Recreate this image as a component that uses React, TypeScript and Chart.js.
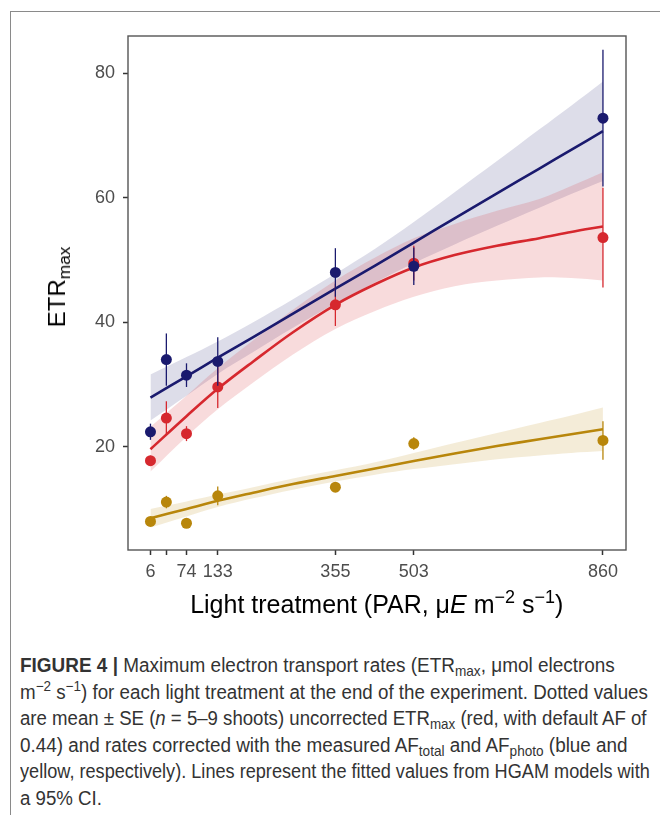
import React, { useEffect, useLayoutEffect, useRef } from 'react';
import { Chart, registerables } from 'chart.js';

Chart.register(...registerables);

// ---- tick values ----
const xTicks = [6, 36, 74, 133, 355, 503, 860];
const xTickLabels = ['6', '', '74', '133', '355', '503', '860'];
const yTicks = [20, 40, 60, 80];

// ---- observed means ± SE ----
const treatments = [6, 36, 74, 133, 355, 503, 860];
const redMean = [17.75, 24.6, 22.1, 29.6, 42.8, 49.5, 53.6];
const redSE = [0.8, 2.7, 1.2, 3.4, 3.4, 2.8, 8.0];
const blueMean = [22.4, 34.0, 31.5, 33.7, 48.0, 49.0, 72.8];
const blueSE = [1.3, 4.2, 1.9, 3.9, 3.9, 3.0, 11.0];
const yellowMean = [8.0, 11.1, 7.7, 12.1, 13.5, 20.5, 21.0];
const yellowSE = [0.5, 1.0, 0.4, 1.5, 0.6, 1.0, 3.1];

// ---- fitted HGAM values and 95% CI ----
const fitX = [6, 74, 133, 200, 275, 355, 430, 503, 580, 660, 740, 800, 860];
const redFit = [19.6, 24.9, 29.3, 33.7, 38.4, 42.8, 46.1, 48.8, 50.8, 52.3, 53.5, 54.5, 55.4];
const redLower = [16.0, 21.6, 26.0, 30.3, 34.8, 38.9, 41.8, 44.1, 45.8, 46.7, 47.2, 47.1, 46.7];
const redUpper = [23.2, 28.2, 32.6, 37.1, 42.0, 46.7, 50.4, 53.5, 55.8, 57.9, 59.8, 61.9, 64.1];
const blueFit = [27.9, 31.3, 34.3, 37.6, 41.4, 45.4, 49.1, 52.8, 56.7, 60.7, 64.7, 67.7, 70.7];
const blueLower = [24.2, 28.2, 31.7, 35.2, 39.1, 43.0, 46.4, 49.5, 52.5, 55.5, 58.4, 60.6, 62.7];
const blueUpper = [31.6, 34.4, 36.9, 40.0, 43.7, 47.8, 51.8, 56.1, 60.9, 65.9, 71.0, 74.8, 78.7];
const yellowFit = [8.5, 10.0, 11.3, 12.6, 14.0, 15.3, 16.5, 17.7, 18.9, 20.1, 21.2, 22.0, 22.8];
const yellowLower = [7.0, 8.8, 10.3, 11.7, 13.1, 14.4, 15.5, 16.4, 17.2, 18.0, 18.6, 19.0, 19.3];
const yellowUpper = [10.0, 11.2, 12.3, 13.5, 14.9, 16.2, 17.5, 19.0, 20.6, 22.2, 23.8, 25.0, 26.3];

const RED = 'rgb(214,40,46)';
const BLUE = 'rgb(26,26,110)';
const YELLOW = 'rgb(184,134,11)';
const RED_BAND = 'rgba(214,40,46,0.17)';
const BLUE_BAND = 'rgba(26,26,110,0.15)';
const YELLOW_BAND = 'rgba(184,134,11,0.16)';

const FONT = "'Liberation Sans', Arial, Helvetica, sans-serif";

const xy = (xs: number[], ys: number[]) => xs.map((x, i) => ({ x, y: ys[i] }));

const errorBarPlugin = {
  id: 'errorBars',
  beforeDatasetDraw(chart: any, args: any) {
    const ds = chart.data.datasets[args.index];
    if (!ds.errors) return;
    const { ctx, chartArea: a } = chart;
    const xs = chart.scales.x;
    const ys = chart.scales.y;
    ctx.save();
    ctx.beginPath();
    ctx.rect(a.left, a.top, a.right - a.left, a.bottom - a.top);
    ctx.clip();
    ctx.strokeStyle = ds.backgroundColor;
    ctx.lineWidth = 1.3;
    ds.data.forEach((p: any, i: number) => {
      const px = xs.getPixelForValue(p.x);
      ctx.beginPath();
      ctx.moveTo(px, ys.getPixelForValue(p.y - ds.errors[i]));
      ctx.lineTo(px, ys.getPixelForValue(p.y + ds.errors[i]));
      ctx.stroke();
    });
    ctx.restore();
  },
};

const panelBorderPlugin = {
  id: 'panelBorder',
  afterDraw(chart: any) {
    const { ctx, chartArea: a } = chart;
    ctx.save();
    ctx.strokeStyle = '#555';
    ctx.lineWidth = 1.4;
    ctx.strokeRect(a.left, a.top, a.right - a.left, a.bottom - a.top);
    ctx.restore();
  },
};

const band = (upper: number[], lower: number[], color: string, order: number) => [
  {
    data: xy(fitX, upper),
    borderWidth: 0,
    pointRadius: 0,
    backgroundColor: color,
    fill: '+1',
    tension: 0.35,
    order,
  },
  {
    data: xy(fitX, lower),
    borderWidth: 0,
    pointRadius: 0,
    backgroundColor: color,
    fill: false,
    tension: 0.35,
    order,
  },
];

const fitLine = (ys: number[], color: string, order: number) => ({
  data: xy(fitX, ys),
  borderColor: color,
  borderWidth: 2.6,
  pointRadius: 0,
  fill: false,
  tension: 0.35,
  order,
});

const pointsSet = (means: number[], se: number[], color: string, order: number) => ({
  data: xy(treatments, means),
  errors: se,
  showLine: false,
  pointRadius: 5.5,
  pointBorderWidth: 0,
  backgroundColor: color,
  borderColor: color,
  fill: false,
  order,
});

// caption line target widths (px)
const captionWidths = [595, 628, 627, 608, 630, 0];

export default function App() {
  const ref = useRef<HTMLCanvasElement>(null);
  const capRefs = useRef<(HTMLDivElement | null)[]>([]);

  useLayoutEffect(() => {
    const ratios: number[] = [];
    capRefs.current.forEach((el, i) => {
      if (!el || !captionWidths[i]) return;
      const w = el.scrollWidth;
      const r = captionWidths[i] / w;
      ratios.push(r);
      el.style.transform = `scaleX(${r})`;
    });
    const avg = ratios.reduce((a, b) => a + b, 0) / Math.max(1, ratios.length);
    capRefs.current.forEach((el, i) => {
      if (el && !captionWidths[i]) el.style.transform = `scaleX(${avg})`;
    });
  }, []);

  useEffect(() => {
    if (!ref.current) return;
    const chart = new Chart(ref.current, {
      type: 'line',
      data: {
        datasets: [
          ...band(redUpper, redLower, RED_BAND, 30),
          ...band(blueUpper, blueLower, BLUE_BAND, 31),
          ...band(yellowUpper, yellowLower, YELLOW_BAND, 32),
          fitLine(redFit, RED, 20),
          fitLine(blueFit, BLUE, 19),
          fitLine(yellowFit, YELLOW, 18),
          pointsSet(redMean, redSE, RED, 3),
          pointsSet(blueMean, blueSE, BLUE, 2),
          pointsSet(yellowMean, yellowSE, YELLOW, 1),
        ] as any,
      },
      options: {
        responsive: false,
        animation: false,
        layout: { padding: { left: 0, right: 42, top: 28, bottom: 0 } },
        plugins: { legend: { display: false }, tooltip: { enabled: false } },
        scales: {
          x: {
            type: 'linear',
            min: -36.4,
            max: 903.5,
            afterBuildTicks: (s: any) => {
              s.ticks = xTicks.map((v) => ({ value: v }));
            },
            afterFit: (s: any) => {
              s.height = 90;
            },
            ticks: {
              autoSkip: false,
              maxRotation: 0,
              padding: 6,
              color: '#4d4d4d',
              font: { size: 18, family: FONT },
              callback: (_v: any, i: number) => xTickLabels[i],
            },
            grid: {
              display: true,
              drawOnChartArea: false,
              drawTicks: true,
              tickLength: 5,
              tickColor: '#333',
              tickWidth: 1.5,
            },
            border: { display: false },
          },
          y: {
            type: 'linear',
            min: 3.4,
            max: 86.0,
            afterBuildTicks: (s: any) => {
              s.ticks = yTicks.map((v) => ({ value: v }));
            },
            afterFit: (s: any) => {
              s.width = 120;
            },
            ticks: {
              padding: 8,
              color: '#4d4d4d',
              font: { size: 18, family: FONT },
            },
            grid: {
              display: true,
              drawOnChartArea: false,
              drawTicks: true,
              tickLength: 5,
              tickColor: '#333',
              tickWidth: 1.5,
            },
            border: { display: false },
          },
        },
      } as any,
      plugins: [errorBarPlugin, panelBorderPlugin],
    });
    return () => chart.destroy();
  }, []);

  const sub: React.CSSProperties = { fontSize: '0.72em', verticalAlign: '-0.3em', lineHeight: 0 };
  const sup: React.CSSProperties = { fontSize: '0.72em', verticalAlign: '0.55em', lineHeight: 0 };
  const capLine = (i: number): React.CSSProperties => ({
    position: 'absolute',
    left: 12,
    top: [665, 691.5, 718, 744.5, 771, 797.5][i] - 8 - 13,
    height: 26,
    lineHeight: '26px',
    whiteSpace: 'nowrap',
    fontSize: 20,
    color: '#333',
    transformOrigin: 'left center',
    fontFamily: FONT,
  });
  const setCap = (i: number) => (el: HTMLDivElement | null) => {
    capRefs.current[i] = el;
  };

  return (
    <div
      style={{
        position: 'relative',
        width: 660,
        height: 807,
        overflow: 'hidden',
        background: '#fff',
        fontFamily: FONT,
      }}
    >
      <div
        style={{
          position: 'absolute',
          left: 2,
          top: 3,
          width: 900,
          height: 1000,
          borderLeft: '1px solid #8a8a8a',
          borderTop: '1px solid #8a8a8a',
        }}
      />
      <canvas
        ref={ref}
        width={660}
        height={632}
        style={{ position: 'absolute', left: 0, top: 0, width: 660, height: 632 }}
      />
      <div
        style={{
          position: 'absolute',
          left: 49,
          top: 279,
          transform: 'translate(-50%, -50%) rotate(-90deg)',
          whiteSpace: 'nowrap',
          fontSize: 24,
          color: '#000',
        }}
      >
        ETR<span style={sub}>max</span>
      </div>
      <div
        style={{
          position: 'absolute',
          left: 368.75,
          top: 596,
          transform: 'translate(-50%, -50%)',
          whiteSpace: 'nowrap',
          fontSize: 25,
          color: '#000',
        }}
      >
        Light treatment (PAR, μ<i>E</i> m<span style={sup}>−2</span> s<span style={sup}>−1</span>)
      </div>

      <div ref={setCap(0)} style={capLine(0)}>
        <b>FIGURE 4 |</b> Maximum electron transport rates (ETR<span style={sub}>max</span>, μmol electrons
      </div>
      <div ref={setCap(1)} style={capLine(1)}>
        m<span style={sup}>−2</span> s<span style={sup}>−1</span>) for each light treatment at the end of the experiment. Dotted values
      </div>
      <div ref={setCap(2)} style={capLine(2)}>
        are mean ± SE (<i>n</i> = 5–9 shoots) uncorrected ETR<span style={sub}>max</span> (red, with default AF of
      </div>
      <div ref={setCap(3)} style={capLine(3)}>
        0.44) and rates corrected with the measured AF<span style={sub}>total</span> and AF<span style={sub}>photo</span> (blue and
      </div>
      <div ref={setCap(4)} style={capLine(4)}>
        yellow, respectively). Lines represent the fitted values from HGAM models with
      </div>
      <div ref={setCap(5)} style={capLine(5)}>
        a 95% CI.
      </div>
    </div>
  );
}
